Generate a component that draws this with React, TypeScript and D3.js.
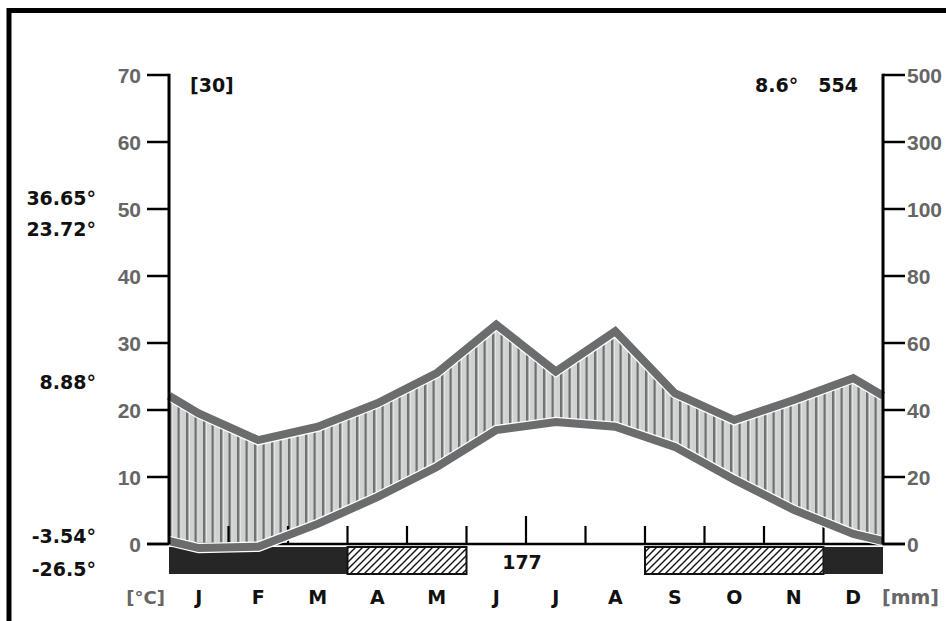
import React from "react";
import * as d3 from "d3";

// ---- data ----
const months = ["J", "F", "M", "A", "M", "J", "J", "A", "S", "O", "N", "D"];
const temperature = [-0.6, -0.4, 3.0, 7.0, 11.5, 17.0, 18.2, 17.5, 14.5, 9.6, 5.1, 1.5];
const precipitation = [39, 31, 35, 42, 51, 65.5, 51.5, 63.5, 45, 37, 43, 49.5];
// frost: "sure" = certain frost (black), "prob" = probable frost (hatched), "none"
const frost = ["sure", "sure", "sure", "prob", "prob", "none", "none", "none", "prob", "prob", "prob", "sure"];
const tempTicks = [0, 10, 20, 30, 40, 50, 60, 70];
const precTicks = [0, 20, 40, 60, 80, 100, 300, 500];
const leftLabels = ["36.65°", "23.72°", "8.88°", "-3.54°", "-26.5°"];
const yearsLabel = "[30]";
const meanTempLabel = "8.6°";
const totalPrecLabel = "554";
const frostFreeLabel = "177";
const tempUnit = "[°C]";
const precUnit = "[mm]";

const W = 946;
const H = 621;

export default function App() {
  const x = d3.scaleLinear().domain([0, 12]).range([169, 883]);
  const yT = d3.scaleLinear().domain([0, 70]).range([544, 75]);
  const yP = d3.scaleLinear().domain([0, 100, 500]).range([yT(0), yT(50), yT(70)]);

  const edgeT = (temperature[0] + temperature[11]) / 2;
  const edgeP = (precipitation[0] + precipitation[11]) / 2;
  const pts = [
    { m: 0, t: edgeT, p: edgeP },
    ...months.map((_, i) => ({ m: i + 0.5, t: temperature[i], p: precipitation[i] })),
    { m: 12, t: edgeT, p: edgeP },
  ];

  const area = d3
    .area<any>()
    .x((d) => x(d.m))
    .y0((d) => yT(d.t))
    .y1((d) => yP(d.p));
  const tLine = d3.line<any>().x((d) => x(d.m)).y((d) => yT(d.t));
  const pLine = d3.line<any>().x((d) => x(d.m)).y((d) => yP(d.p));

  // runs of frost bar
  const runs: { s: number; e: number; k: string }[] = [];
  frost.forEach((k, i) => {
    const last = runs[runs.length - 1];
    if (last && last.k === k) last.e = i + 1;
    else runs.push({ s: i, e: i + 1, k });
  });

  const barTop = 547;
  const barBot = 574;
  const grey = "#6a6c6d";
  const labelGrey = "#666666";
  const dv = "'DejaVu Sans', Verdana, sans-serif";
  const ar = "'Liberation Sans', Arial, sans-serif";

  return (
    <svg
      width={W}
      height={H}
      viewBox={`0 0 ${W} ${H}`}
      style={{ position: "absolute", left: 0, top: 0, background: "#fff" }}
    >
      <defs>
        <pattern id="stripes" patternUnits="userSpaceOnUse" x={169} y={0} width={8.5} height={20}>
          <rect width={8.5} height={20} fill="#d0d2d2" />
          <rect x={0} width={2.6} height={20} fill="#6e7072" />
          <rect x={2.6} width={1} height={20} fill="#f2f2f2" />
        </pattern>
        <pattern id="hatch" patternUnits="userSpaceOnUse" width={7} height={7}>
          <rect width={7} height={7} fill="#fff" />
          <path d="M0,7 L7,0 M-1,1 L1,-1 M6,8 L8,6" stroke="#111" strokeWidth={1.4} />
        </pattern>
      </defs>

      <rect x={0} y={0} width={W} height={H} fill="#fff" />
      {/* frame */}
      <rect x={9} y={10.5} width={1200} height={1200} fill="none" stroke="#000" strokeWidth={5} />

      {/* frost bar */}
      {runs
        .filter((r) => r.k !== "none")
        .map((r, i) => (
          <rect
            key={i}
            x={x(r.s)}
            y={barTop}
            width={x(r.e) - x(r.s)}
            height={barBot - barTop}
            fill={r.k === "sure" ? "#262626" : "url(#hatch)"}
            stroke="#111"
            strokeWidth={r.k === "sure" ? 0 : 2}
          />
        ))}

      {/* humid area */}
      <path d={area(pts) || ""} fill="url(#stripes)" />

      {/* x axis baseline and month ticks */}
      <line x1={147} x2={905} y1={yT(0)} y2={yT(0)} stroke="#000" strokeWidth={2.5} />
      {d3.range(1, 12).map((k) => (
        <line
          key={k}
          x1={x(k)}
          x2={x(k)}
          y1={yT(0)}
          y2={yT(0) - (k === 6 ? 28 : 18)}
          stroke="#000"
          strokeWidth={2.2}
        />
      ))}

      {/* lines */}
      <path d={pLine(pts) || ""} fill="none" stroke="#fff" strokeWidth={10.5} strokeLinejoin="miter" />
      <path d={tLine(pts) || ""} fill="none" stroke="#fff" strokeWidth={10.5} strokeLinejoin="miter" />
      <path d={pLine(pts) || ""} fill="none" stroke={grey} strokeWidth={8} strokeLinejoin="miter" />
      <path d={tLine(pts) || ""} fill="none" stroke={grey} strokeWidth={8} strokeLinejoin="miter" />

      {/* left axis */}
      <line x1={x(0)} x2={x(0)} y1={yT(70) - 1.2} y2={yT(0)} stroke="#000" strokeWidth={3} />
      {tempTicks.map((t) => (
        <g key={t}>
          <line x1={147} x2={x(0)} y1={yT(t)} y2={yT(t)} stroke="#000" strokeWidth={2.5} />
          <text
            x={141}
            y={yT(t) + 7.5}
            textAnchor="end"
            fontFamily={ar}
            fontWeight="bold"
            fontSize={21}
            fill={labelGrey}
          >
            {t}
          </text>
        </g>
      ))}

      {/* right axis */}
      <line x1={x(12)} x2={x(12)} y1={yP(500) - 1.2} y2={yP(0)} stroke="#000" strokeWidth={3} />
      {precTicks.map((p) => (
        <g key={p}>
          <line x1={x(12)} x2={905} y1={yP(p)} y2={yP(p)} stroke="#000" strokeWidth={2.5} />
          <text
            x={907}
            y={yP(p) + 7.5}
            textAnchor="start"
            fontFamily={ar}
            fontWeight="bold"
            fontSize={21}
            fill={labelGrey}
          >
            {p}
          </text>
        </g>
      ))}

      {/* header texts */}
      <text x={190} y={92} fontFamily={dv} fontWeight="bold" fontSize={19} fill="#111">
        {yearsLabel}
      </text>
      <text x={755} y={92} fontFamily={dv} fontWeight="bold" fontSize={19} fill="#111">
        {meanTempLabel}
      </text>
      <text x={858} y={92} textAnchor="end" fontFamily={dv} fontWeight="bold" fontSize={19} fill="#111">
        {totalPrecLabel}
      </text>

      {/* left side labels */}
      {leftLabels.map((s, i) => (
        <text
          key={i}
          x={96}
          y={[204.5, 236, 389, 543, 576][i]}
          textAnchor="end"
          fontFamily={dv}
          fontWeight="bold"
          fontSize={19}
          fill="#111"
        >
          {s}
        </text>
      ))}

      {/* frost free days */}
      <text x={522} y={569} textAnchor="middle" fontFamily={dv} fontWeight="bold" fontSize={19} fill="#111">
        {frostFreeLabel}
      </text>

      {/* months */}
      {months.map((m, i) => (
        <text
          key={i}
          x={x(i + 0.5)}
          y={604}
          textAnchor="middle"
          fontFamily={dv}
          fontWeight="bold"
          fontSize={19}
          fill="#111"
        >
          {m}
        </text>
      ))}
      <text x={165} y={604} textAnchor="end" fontFamily={dv} fontWeight="bold" fontSize={18} fill={labelGrey}>
        {tempUnit}
      </text>
      <text x={882} y={604} textAnchor="start" fontFamily={dv} fontWeight="bold" fontSize={19} fill={labelGrey}>
        {precUnit}
      </text>
    </svg>
  );
}
